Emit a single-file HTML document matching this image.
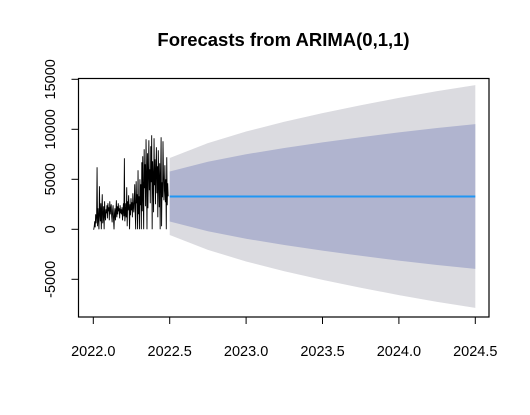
<!DOCTYPE html>
<html><head><meta charset="utf-8"><style>
body{margin:0;background:#fff;}
svg{display:block;font-family:"Liberation Sans",Arial,sans-serif;}
</style></head><body>
<svg id="chart" width="530" height="415" viewBox="0 0 530 415">
<text x="283.5" y="46" text-anchor="middle" font-size="18.5" font-weight="bold">Forecasts from ARIMA(0,1,1)</text>
<g id="bands"></g><g id="series"></g>
<rect x="78.5" y="78.5" width="410.5" height="238.5" fill="none" stroke="#000" stroke-width="1.2"/>
<g id="axes"></g>
</svg>
<script>
const obsValues=[0,0,300,800,200,1500,600,1200,6200,300,2100,900,0,4300,1500,800,2600,0,1900,3500,600,1200,2300,0,2800,1400,900,2000,1600,2400,
1100,2600,1800,2200,900,2800,1500,2000,2500,1300,700,1900,2400,1000,0,1600,2100,900,1700,2900,1200,2300,1500,2600,1800,2100,1100,2400,1600,2000,
1500,2200,900,1800,2600,1300,7100,800,1500,2600,1200,4200,300,2800,1900,3400,2200,0,2500,1400,3100,1900,2700,1200,3600,2300,1700,2900,4500,1600,
0,4800,2600,3500,0,5900,1500,3300,0,5000,2400,4500,0,6700,1800,7300,3200,0,8000,4100,6500,2300,9000,5200,0,7600,2100,5500,8900,3900,
6000,2600,8300,4700,9400,0,6800,5200,1700,9100,4400,7000,2500,5800,8200,3600,6300,1200,7900,4900,2200,6600,0,5400,9200,300,4700,3200,8800,5600,
2900,4100,6400,2700,5000,0,7200,2400,4600,3300];
const obsStart=2022.0, obsEnd=2022.49;
const fcTimes=[2022.5,2022.75,2023.0,2023.25,2023.5,2023.75,2024.0,2024.25,2024.5];
const fcMean=[3280,3280,3280,3280,3280,3280,3280,3280,3280];
const hi80=[5786,6751,7502,8136,8698,9211,9687,10131,10521];
const lo80=[774,-191,-942,-1576,-2138,-2651,-3127,-3571,-3961];
const hi95=[7135,8620,9775,10751,11616,12405,13137,13820,14420];
const lo95=[-575,-2060,-3215,-4191,-5056,-5845,-6577,-7260,-7860];
const xTicks=[2022.0,2022.5,2023.0,2023.5,2024.0,2024.5];
const xTickLabels=["2022.0","2022.5","2023.0","2023.5","2024.0","2024.5"];
const yTicks=[-5000,0,5000,10000,15000];
const yTickLabels=["-5000","0","5000","10000","15000"];

const NS="http://www.w3.org/2000/svg";
const X=t=>93.3+(t-2022.0)*152.8;
const Y=v=>229.3-v*0.01;
function mk(tag,attrs,parent){const e=document.createElementNS(NS,tag);for(const k in attrs)e.setAttribute(k,attrs[k]);document.getElementById(parent).appendChild(e);return e;}
function band(lo,hi,fill,name){
  let d="M"+fcTimes.map((t,i)=>X(t)+","+Y(hi[i])).join("L");
  d+="L"+fcTimes.map((t,i)=>[t,i]).reverse().map(([t,i])=>X(t)+","+Y(lo[i])).join("L")+"Z";
  const p=mk("path",{d:d,fill:fill},"bands");
  
  
}
band(lo95,hi95,"#dbdbe0","band-95");
band(lo80,hi80,"#b0b4cf","band-80");
const n=obsValues.length;
const obsPts=obsValues.map((v,i)=>X(obsStart+(obsEnd-obsStart)*i/(n-1)).toFixed(2)+","+Y(v).toFixed(2)).join(" ");
const ol=mk("polyline",{points:obsPts,fill:"none",stroke:"#000","stroke-width":0.9},"series");


const fl=mk("polyline",{points:fcTimes.map((t,i)=>X(t)+","+Y(fcMean[i])).join(" "),fill:"none",stroke:"#2196f3","stroke-width":2},"series");


const xl=mk("line",{x1:X(xTicks[0]),x2:X(xTicks[xTicks.length-1]),y1:317,y2:317,stroke:"#000"},"axes");


xTicks.forEach((t,i)=>{
  const tk=mk("line",{x1:X(t),x2:X(t),y1:317,y2:324,stroke:"#000"},"axes");
  
  
  const tx=mk("text",{x:X(t),y:356,"text-anchor":"middle","font-size":"14.5"},"axes");
  tx.textContent=xTickLabels[i];
  
  
});
const yl=mk("line",{x1:78.5,x2:78.5,y1:Y(yTicks[0]),y2:Y(yTicks[yTicks.length-1]),stroke:"#000"},"axes");


yTicks.forEach((v,i)=>{
  const tk=mk("line",{x1:71.5,x2:78.5,y1:Y(v),y2:Y(v),stroke:"#000"},"axes");
  
  
  const tx=mk("text",{x:0,y:0,"text-anchor":"middle","font-size":"14.5",transform:"translate(55,"+Y(v)+") rotate(-90)"},"axes");
  tx.textContent=yTickLabels[i];
  
  
});
</script>
</body></html>
